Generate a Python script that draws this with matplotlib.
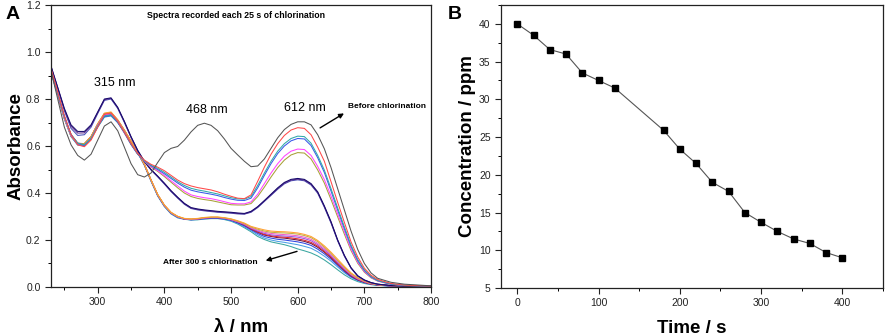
import numpy as np
import matplotlib
matplotlib.use("Agg")
import matplotlib.pyplot as plt
from matplotlib.ticker import MultipleLocator, FormatStrFormatter

plt.rcParams['font.family'] = ['Liberation Sans', 'DejaVu Sans']

# --- panel A: UV-vis spectra, absorbance ---
# rows: 230-320, 330-420, 430-520, 530-620, 630-720 (10 nm steps), then 740, 760, 800
wavelength = list(range(230, 721, 10)) + [740, 760, 800]

abs_before = [0.920, 0.800, 0.680, 0.605, 0.560, 0.540, 0.565, 0.625, 0.685, 0.703,
              0.665, 0.595, 0.525, 0.478, 0.468, 0.485, 0.530, 0.572, 0.590, 0.598,
              0.625, 0.660, 0.688, 0.697, 0.688, 0.665, 0.630, 0.590, 0.562, 0.535,
              0.512, 0.515, 0.545, 0.590, 0.635, 0.670, 0.692, 0.703, 0.703, 0.690,
              0.648, 0.588, 0.508, 0.418, 0.328, 0.238, 0.160, 0.100, 0.060, 0.037,
              0.020, 0.012, 0.005]
abs_red = [0.930, 0.830, 0.730, 0.650, 0.605, 0.597, 0.625, 0.680, 0.735, 0.740,
           0.705, 0.658, 0.610, 0.568, 0.540, 0.522, 0.510, 0.495, 0.475, 0.455,
           0.440, 0.430, 0.423, 0.418, 0.413, 0.405, 0.395, 0.386, 0.378, 0.376,
           0.392, 0.450, 0.510, 0.565, 0.610, 0.645, 0.668, 0.678, 0.675, 0.648,
           0.595, 0.535, 0.448, 0.360, 0.275, 0.192, 0.128, 0.080, 0.050, 0.032,
           0.015, 0.008, 0.004]
abs_teal = [0.925, 0.825, 0.725, 0.650, 0.612, 0.605, 0.632, 0.685, 0.728, 0.733,
            0.703, 0.658, 0.608, 0.566, 0.538, 0.518, 0.505, 0.488, 0.468, 0.448,
            0.432, 0.420, 0.413, 0.408, 0.402, 0.396, 0.388, 0.380, 0.375, 0.374,
            0.385, 0.432, 0.485, 0.535, 0.578, 0.610, 0.632, 0.642, 0.640, 0.612,
            0.560, 0.497, 0.418, 0.336, 0.256, 0.178, 0.117, 0.073, 0.045, 0.028,
            0.013, 0.007, 0.004]
abs_blue = [0.925, 0.825, 0.725, 0.648, 0.610, 0.603, 0.630, 0.683, 0.725, 0.730,
            0.700, 0.655, 0.606, 0.565, 0.537, 0.516, 0.500, 0.482, 0.462, 0.442,
            0.425, 0.412, 0.405, 0.400, 0.395, 0.389, 0.381, 0.374, 0.369, 0.368,
            0.378, 0.422, 0.475, 0.525, 0.568, 0.600, 0.622, 0.632, 0.630, 0.602,
            0.550, 0.487, 0.408, 0.327, 0.248, 0.172, 0.112, 0.070, 0.043, 0.027,
            0.012, 0.007, 0.004]
abs_magenta = [0.920, 0.820, 0.720, 0.645, 0.610, 0.605, 0.632, 0.688, 0.733, 0.738,
               0.706, 0.660, 0.608, 0.566, 0.536, 0.512, 0.495, 0.475, 0.452, 0.430,
               0.408, 0.392, 0.385, 0.380, 0.376, 0.370, 0.363, 0.356, 0.354, 0.354,
               0.362, 0.395, 0.440, 0.485, 0.525, 0.557, 0.578, 0.587, 0.585, 0.560,
               0.513, 0.457, 0.387, 0.311, 0.236, 0.162, 0.106, 0.066, 0.041, 0.026,
               0.012, 0.007, 0.004]
abs_olive = [0.920, 0.820, 0.720, 0.645, 0.612, 0.608, 0.635, 0.690, 0.735, 0.740,
             0.708, 0.662, 0.609, 0.566, 0.535, 0.510, 0.492, 0.470, 0.446, 0.422,
             0.400, 0.385, 0.377, 0.372, 0.368, 0.362, 0.356, 0.350, 0.349, 0.349,
             0.355, 0.385, 0.425, 0.468, 0.508, 0.540, 0.562, 0.572, 0.570, 0.545,
             0.498, 0.442, 0.372, 0.298, 0.225, 0.155, 0.101, 0.063, 0.039, 0.025,
             0.011, 0.006, 0.003]
abs_navy = [0.940, 0.850, 0.760, 0.690, 0.662, 0.662, 0.690, 0.745, 0.800, 0.805,
            0.765, 0.705, 0.640, 0.582, 0.535, 0.500, 0.472, 0.442, 0.410, 0.382,
            0.356, 0.338, 0.332, 0.328, 0.325, 0.322, 0.320, 0.318, 0.315, 0.313,
            0.322, 0.342, 0.368, 0.395, 0.422, 0.445, 0.458, 0.462, 0.458, 0.440,
            0.405, 0.345, 0.278, 0.200, 0.135, 0.082, 0.048, 0.030, 0.019, 0.012,
            0.006, 0.004, 0.002]
abs_purple = [0.938, 0.848, 0.756, 0.684, 0.655, 0.656, 0.686, 0.742, 0.797, 0.803,
              0.763, 0.703, 0.638, 0.580, 0.534, 0.499, 0.470, 0.440, 0.408, 0.380,
              0.354, 0.336, 0.330, 0.326, 0.323, 0.320, 0.318, 0.316, 0.313, 0.311,
              0.320, 0.340, 0.366, 0.392, 0.419, 0.442, 0.455, 0.459, 0.455, 0.437,
              0.402, 0.342, 0.275, 0.198, 0.133, 0.081, 0.047, 0.029, 0.018, 0.012,
              0.006, 0.004, 0.002]
abs_slate = [0.935, 0.845, 0.750, 0.675, 0.645, 0.648, 0.680, 0.738, 0.794, 0.800,
             0.760, 0.700, 0.636, 0.578, 0.533, 0.498, 0.469, 0.438, 0.406, 0.378,
             0.352, 0.334, 0.328, 0.324, 0.321, 0.318, 0.316, 0.314, 0.311, 0.310,
             0.318, 0.338, 0.364, 0.390, 0.416, 0.439, 0.452, 0.456, 0.452, 0.434,
             0.399, 0.339, 0.272, 0.196, 0.131, 0.080, 0.046, 0.029, 0.018, 0.012,
             0.006, 0.004, 0.002]
abs_orange = [0.918, 0.818, 0.718, 0.643, 0.610, 0.610, 0.640, 0.695, 0.740, 0.745,
              0.712, 0.668, 0.621, 0.576, 0.523, 0.456, 0.394, 0.349, 0.318, 0.301,
              0.292, 0.290, 0.292, 0.296, 0.298, 0.298, 0.295, 0.290, 0.282, 0.272,
              0.258, 0.250, 0.243, 0.238, 0.236, 0.235, 0.233, 0.230, 0.224, 0.215,
              0.198, 0.175, 0.148, 0.118, 0.088, 0.060, 0.040, 0.026, 0.016, 0.011,
              0.006, 0.004, 0.002]
abs_yellow = [0.918, 0.818, 0.718, 0.643, 0.609, 0.609, 0.639, 0.693, 0.737, 0.742,
              0.710, 0.667, 0.620, 0.575, 0.522, 0.455, 0.393, 0.348, 0.317, 0.300,
              0.291, 0.289, 0.291, 0.295, 0.297, 0.297, 0.294, 0.289, 0.280, 0.270,
              0.255, 0.246, 0.238, 0.233, 0.231, 0.230, 0.228, 0.225, 0.219, 0.210,
              0.193, 0.170, 0.143, 0.113, 0.084, 0.057, 0.038, 0.025, 0.015, 0.010,
              0.006, 0.004, 0.002]
abs_pink = [0.920, 0.820, 0.720, 0.645, 0.610, 0.608, 0.638, 0.690, 0.733, 0.738,
            0.707, 0.665, 0.620, 0.575, 0.522, 0.455, 0.392, 0.347, 0.316, 0.299,
            0.290, 0.288, 0.290, 0.294, 0.296, 0.296, 0.293, 0.287, 0.278, 0.268,
            0.252, 0.242, 0.233, 0.228, 0.225, 0.223, 0.221, 0.218, 0.212, 0.203,
            0.186, 0.164, 0.138, 0.109, 0.080, 0.054, 0.036, 0.023, 0.014, 0.010,
            0.005, 0.003, 0.002]
abs_violet = [0.920, 0.820, 0.720, 0.645, 0.609, 0.607, 0.637, 0.689, 0.732, 0.737,
              0.706, 0.664, 0.619, 0.574, 0.521, 0.454, 0.391, 0.346, 0.315, 0.298,
              0.290, 0.287, 0.289, 0.293, 0.295, 0.295, 0.292, 0.286, 0.277, 0.266,
              0.250, 0.238, 0.228, 0.222, 0.219, 0.217, 0.215, 0.212, 0.206, 0.197,
              0.180, 0.158, 0.133, 0.104, 0.076, 0.051, 0.034, 0.022, 0.014, 0.010,
              0.005, 0.003, 0.002]
abs_red2 = [0.922, 0.822, 0.722, 0.647, 0.612, 0.610, 0.640, 0.693, 0.738, 0.743,
            0.710, 0.667, 0.620, 0.575, 0.522, 0.455, 0.392, 0.347, 0.316, 0.299,
            0.290, 0.288, 0.290, 0.294, 0.296, 0.296, 0.293, 0.287, 0.277, 0.265,
            0.248, 0.235, 0.224, 0.218, 0.214, 0.212, 0.209, 0.205, 0.199, 0.190,
            0.174, 0.152, 0.128, 0.100, 0.073, 0.049, 0.032, 0.021, 0.013, 0.009,
            0.005, 0.003, 0.002]
abs_maroon = [0.922, 0.822, 0.722, 0.647, 0.611, 0.609, 0.639, 0.692, 0.736, 0.741,
              0.709, 0.666, 0.620, 0.575, 0.522, 0.455, 0.392, 0.347, 0.316, 0.299,
              0.290, 0.287, 0.289, 0.293, 0.295, 0.295, 0.292, 0.286, 0.276, 0.264,
              0.247, 0.233, 0.221, 0.215, 0.210, 0.208, 0.204, 0.200, 0.194, 0.185,
              0.169, 0.148, 0.124, 0.097, 0.070, 0.047, 0.031, 0.020, 0.013, 0.009,
              0.005, 0.003, 0.002]
abs_blue2 = [0.918, 0.818, 0.718, 0.643, 0.607, 0.604, 0.634, 0.686, 0.729, 0.734,
             0.704, 0.663, 0.618, 0.573, 0.520, 0.453, 0.390, 0.345, 0.314, 0.297,
             0.289, 0.286, 0.288, 0.291, 0.293, 0.293, 0.290, 0.284, 0.273, 0.260,
             0.244, 0.228, 0.215, 0.208, 0.203, 0.200, 0.196, 0.192, 0.186, 0.177,
             0.161, 0.141, 0.118, 0.092, 0.066, 0.044, 0.029, 0.019, 0.012, 0.008,
             0.004, 0.003, 0.002]
abs_sky = [0.916, 0.816, 0.716, 0.641, 0.605, 0.602, 0.632, 0.683, 0.726, 0.731,
           0.702, 0.662, 0.617, 0.572, 0.519, 0.452, 0.389, 0.344, 0.313, 0.296,
           0.289, 0.286, 0.287, 0.290, 0.292, 0.292, 0.289, 0.282, 0.271, 0.256,
           0.240, 0.222, 0.208, 0.200, 0.194, 0.190, 0.185, 0.180, 0.173, 0.165,
           0.150, 0.131, 0.110, 0.085, 0.061, 0.041, 0.027, 0.018, 0.011, 0.008,
           0.004, 0.003, 0.002]
abs_teal2 = [0.915, 0.815, 0.715, 0.640, 0.604, 0.601, 0.631, 0.680, 0.723, 0.728,
             0.700, 0.660, 0.616, 0.571, 0.518, 0.450, 0.387, 0.342, 0.311, 0.294,
             0.288, 0.285, 0.286, 0.289, 0.291, 0.291, 0.287, 0.280, 0.268, 0.252,
             0.235, 0.215, 0.202, 0.192, 0.186, 0.180, 0.172, 0.162, 0.154, 0.145,
             0.132, 0.115, 0.095, 0.073, 0.052, 0.035, 0.023, 0.015, 0.010, 0.007,
             0.004, 0.003, 0.002]

spectra = [
    (abs_teal2, '#3aa6a0'), (abs_sky, '#4a9ee6'), (abs_blue2, '#3246e0'), (abs_maroon, '#6a1040'),
    (abs_red2, '#e02828'), (abs_violet, '#9a52e0'), (abs_pink, '#f060c8'), (abs_yellow, '#c0b040'),
    (abs_orange, '#ffa030'),
    (abs_slate, '#4a52b8'), (abs_purple, '#5a2a8c'), (abs_navy, '#160a6c'),
    (abs_olive, '#a8a038'), (abs_magenta, '#ff44ff'), (abs_blue, '#3858e8'), (abs_teal, '#30a8a8'),
    (abs_red, '#ff4848'), (abs_before, '#555555'),
]

# --- panel B: concentration vs time ---
time_s = [0, 20, 40, 60, 80, 100, 120, 180, 200, 220, 240, 260, 280, 300, 320, 340, 360, 380, 400]
conc_ppm = [40.0, 38.5, 36.6, 36.0, 33.5, 32.5, 31.5, 25.9, 23.4, 21.5, 19.0, 17.8, 15.0, 13.7, 12.5, 11.5,
            10.9, 9.7, 9.0]

fig = plt.figure(figsize=(8.86, 3.35), dpi=100)
axA = fig.add_axes([0.0576, 0.1433, 0.4289, 0.8417])
axB = fig.add_axes([0.5655, 0.1403, 0.4311, 0.8447])

for vals, col in spectra:
    axA.plot(wavelength, vals, color=col, lw=0.75)

axA.set_xlim(230, 800)
axA.set_ylim(0, 1.2)
axA.xaxis.set_major_locator(MultipleLocator(100))
axA.xaxis.set_minor_locator(MultipleLocator(50))
axA.yaxis.set_major_locator(MultipleLocator(0.2))
axA.yaxis.set_minor_locator(MultipleLocator(0.1))
axA.yaxis.set_major_formatter(FormatStrFormatter('%.1f'))
axA.set_xlabel('λ / nm', fontsize=13.5, fontweight='bold', labelpad=8)
axA.set_ylabel('Absorbance', fontsize=13.5, fontweight='bold', labelpad=1)

axA.text(326, 0.868, '315 nm', fontsize=9, ha='center', va='center')
axA.text(464, 0.753, '468 nm', fontsize=9, ha='center', va='center')
axA.text(611, 0.762, '612 nm', fontsize=9, ha='center', va='center')
axA.text(676, 0.767, 'Before chlorination', fontsize=6, fontweight='bold', ha='left', va='center')
axA.text(508, 1.155, 'Spectra recorded each 25 s of chlorination', fontsize=6.3, fontweight='bold',
         ha='center', va='center')
axA.text(469, 0.106, 'After 300 s chlorination', fontsize=6, fontweight='bold', ha='center', va='center')
axA.annotate('', xy=(673, 0.745), xytext=(630, 0.671),
             arrowprops=dict(arrowstyle='-|>', color='black', lw=1.0, mutation_scale=7))
axA.annotate('', xy=(548, 0.109), xytext=(603, 0.155),
             arrowprops=dict(arrowstyle='-|>', color='black', lw=1.0, mutation_scale=7))

axB.plot(time_s, conc_ppm, color='#555555', lw=0.8, marker='s', markersize=4.3,
         markerfacecolor='black', markeredgecolor='black')
axB.set_xlim(-20, 450)
axB.set_ylim(5, 42.5)
axB.xaxis.set_major_locator(MultipleLocator(100))
axB.xaxis.set_minor_locator(MultipleLocator(50))
axB.yaxis.set_major_locator(MultipleLocator(5))
axB.yaxis.set_minor_locator(MultipleLocator(2.5))
axB.set_xlabel('Time / s', fontsize=13.5, fontweight='bold', labelpad=8)
axB.set_ylabel('Concentration / ppm', fontsize=13.5, fontweight='bold', labelpad=2)

for ax in (axA, axB):
    ax.tick_params(which='major', direction='out', length=4, width=0.8, labelsize=7.5,
                   colors='#222222', top=False, right=False)
    ax.tick_params(which='minor', direction='out', length=2.2, width=0.7, top=False, right=False)
    for sp in ax.spines.values():
        sp.set_linewidth(0.9)
        sp.set_color('#222222')

fig.text(0.006, 0.958, 'A', fontsize=14, fontweight='bold', ha='left', va='center')
fig.text(0.505, 0.958, 'B', fontsize=14, fontweight='bold', ha='left', va='center')

fig.savefig('out.png', dpi=100)
